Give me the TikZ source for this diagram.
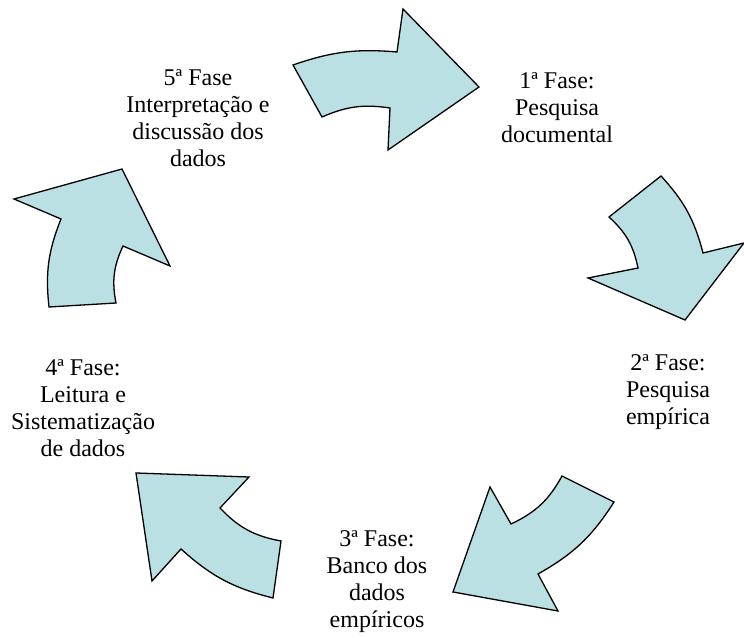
\documentclass[tikz,border=0pt]{standalone}
\usepackage{fontspec}
\setmainfont{Liberation Serif}
\usepackage{xcolor}
\usepackage{tikz}
\definecolor{azulclaro}{RGB}{186,224,227}

\tikzset{
  seta/.style={fill=azulclaro, draw=black, line width=1.3pt, line join=miter},
  fase/.style={align=center, inner sep=0pt, font=\fontsize{24}{27}\selectfont}
}

\begin{document}
\begin{tikzpicture}[x=1pt, y=1pt]
    \useasboundingbox (0,0) rectangle (744,637);

    % setas do ciclo
    \draw[seta] (293,572) to[bend left=12] (397,585) -- (403,628) -- (479,550)
      -- (388,487) -- (390,529) to[bend right=16] (322,520) -- cycle;
    \draw[seta] (661,461) to[bend left=14] (703,384) -- (744,394) -- (685,317)
      -- (588,359) -- (638,369) to[bend right=18] (609,420) -- cycle;
    \draw[seta] (562,161) -- (614,135) to[bend left=14] (538,63) -- (558,26)
      -- (453,45) -- (490,150) -- (511,113) to[bend right=18] cycle;
    \draw[seta] (136,164) -- (249,160) -- (220,129) to[bend right=18] (281,96)
      -- (273,39) to[bend left=14] (181,88) -- (152,56) -- cycle;
    \draw[seta] (122,468) -- (14,438) -- (61,418) to[bend right=14] (49,330)
      -- (116,334) to[bend left=18] (123,391) -- (170,371) -- cycle;

    % fases
    \node[fase] (fase1) at (557,529) {1ª Fase:\\Pesquisa\\documental};
    \node[fase] (fase2) at (668,245) {2ª Fase:\\Pesquisa\\empírica};
    \node[fase] (fase3) at (377,55) {3ª Fase:\\Banco dos\\dados\\empíricos};
    \node[fase] (fase4) at (83,229) {4ª Fase:\\Leitura e\\Sistematização\\de dados};
    \node[fase] (fase5) at (198,519) {5ª Fase\\Interpretação e\\discussão dos\\dados};
  \end{tikzpicture}
\end{document}
